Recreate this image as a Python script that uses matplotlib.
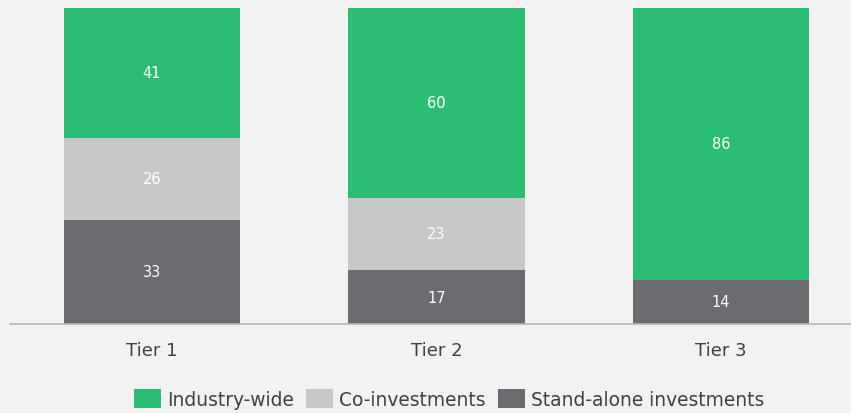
import matplotlib
matplotlib.use("Agg")
import matplotlib.pyplot as plt
from matplotlib.patches import Patch

categories = ["Tier 1", "Tier 2", "Tier 3"]
stand_alone = [33, 17, 14]
co_invest = [26, 23, 0]
industry = [41, 60, 86]
series_names = ["Industry-wide", "Co-investments", "Stand-alone investments"]

green = "#2cbd74"
light = "#c8c8c8"
dark = "#6b6c70"
bg = "#f2f2f2"

plt.rcParams["font.family"] = ["DejaVu Sans"]

fig = plt.figure(figsize=(8.51, 4.14), dpi=100, facecolor=bg)
ax = fig.add_axes([10 / 851, 89 / 414, 841 / 851, 316 / 414])
ax.set_facecolor(bg)

x = list(range(len(categories)))
w = 0.62
bottom = [0] * len(x)
for vals, col in [(stand_alone, dark), (co_invest, light), (industry, green)]:
    ax.bar(x, vals, w, bottom=bottom, color=col, linewidth=0)
    for i, v in enumerate(vals):
        if v > 0:
            ax.text(x[i], bottom[i] + v / 2, str(v), ha="center", va="center",
                    color="white", fontsize=10.5)
    bottom = [b + v for b, v in zip(bottom, vals)]

ax.set_ylim(0, 100)
ax.set_xlim(-0.498, 2.456)
for s in ["top", "right", "left"]:
    ax.spines[s].set_visible(False)
ax.spines["bottom"].set_color("#b4b4b4")
ax.spines["bottom"].set_linewidth(1.2)
ax.set_yticks([])
ax.set_xticks(x)
ax.set_xticklabels(categories, fontsize=13, color="#404040")
ax.tick_params(axis="x", length=0, pad=12)

handles = [Patch(facecolor=green, edgecolor="none"),
           Patch(facecolor=light, edgecolor="none"),
           Patch(facecolor=dark, edgecolor="none")]
fig.legend(handles, series_names, loc="center", bbox_to_anchor=(449 / 851, 1 - 400 / 414),
           ncol=3, frameon=False, fontsize=13.4, handlelength=1.45, handleheight=1.2,
           handletextpad=0.33, columnspacing=0.65, labelcolor="#404040",
           borderpad=0, borderaxespad=0)

fig.savefig("out.png", dpi=100, facecolor=bg)
